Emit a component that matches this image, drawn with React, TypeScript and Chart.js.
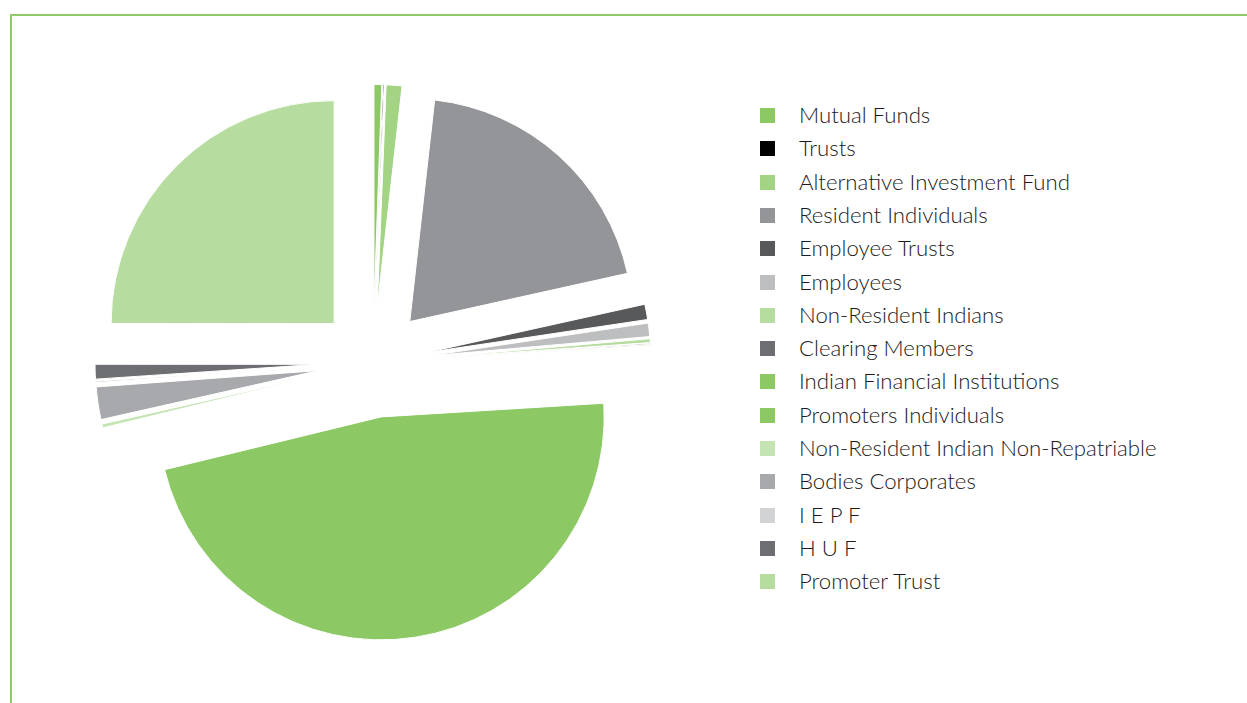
import React, { useEffect, useRef } from "react";
import { Chart, registerables } from "chart.js";

Chart.register(...registerables);

// Shareholding categories (legend order = slice order, clockwise from 12 o'clock)
const categories: string[] = [
  "Mutual Funds",
  "Trusts",
  "Alternative Investment Fund",
  "Resident Individuals",
  "Employee Trusts",
  "Employees",
  "Non-Resident Indians",
  "Clearing Members",
  "Indian Financial Institutions",
  "Promoters Individuals",
  "Non-Resident Indian Non-Repatriable",
  "Bodies Corporates",
  "I E P F",
  "H U F",
  "Promoter Trust",
];

// Percentage of shareholding
const shares: number[] = [
  0.56, 0.08, 1.14, 19.75, 1.11, 0.97, 0.28, 0.08, 0.06, 47.17, 0.28, 2.36, 0.11, 1.06, 25.0,
];

const colors: string[] = [
  "#8cc864",
  "#000000",
  "#a2d483",
  "#939598",
  "#58595b",
  "#bcbec0",
  "#b7dca0",
  "#6d6e71",
  "#8cc864",
  "#8cc864",
  "#c5e4b4",
  "#a7a9ac",
  "#d1d3d4",
  "#6d6e71",
  "#b7dca0",
];

const EXPLODE = 55;
const RADIUS = 223;

// Draw every arc pushed out along its mid angle (exploded pie)
const explodePlugin = {
  id: "explodeSlices",
  beforeDatasetDraw(chart: any, args: any) {
    const ctx = chart.ctx;
    args.meta.data.forEach((arc: any) => {
      const mid = (arc.startAngle + arc.endAngle) / 2;
      ctx.save();
      ctx.translate(Math.cos(mid) * EXPLODE, Math.sin(mid) * EXPLODE);
      arc.draw(ctx);
      ctx.restore();
    });
    return false;
  },
};

export default function App() {
  const ref = useRef<HTMLCanvasElement>(null);

  useEffect(() => {
    if (!ref.current) return;
    const chart = new Chart(ref.current, {
      type: "pie",
      data: {
        labels: categories,
        datasets: [
          {
            data: shares,
            backgroundColor: colors,
            borderColor: "#ffffff",
            borderWidth: 1,
            radius: RADIUS,
          } as any,
        ],
      },
      options: {
        responsive: false,
        animation: false,
        layout: { padding: { top: 22 } },
        plugins: {
          legend: { display: false },
          tooltip: { enabled: false },
        },
      } as any,
      plugins: [explodePlugin as any],
    });
    return () => chart.destroy();
  }, []);

  return (
    <div
      style={{
        position: "absolute",
        left: 0,
        top: 0,
        width: 1247,
        height: 703,
        overflow: "hidden",
        background: "#ffffff",
      }}
    >
      <div
        style={{
          position: "absolute",
          left: 10,
          top: 14,
          width: 1237,
          height: 689,
          borderTop: "2px solid #8fca6b",
          borderLeft: "2px solid #8fca6b",
          boxSizing: "border-box",
        }}
      />
      <canvas
        ref={ref}
        width={746}
        height={703}
        style={{ position: "absolute", left: 0, top: 0 }}
      />
      {categories.map((c, i) => (
        <div
          key={c}
          style={{
            position: "absolute",
            left: 760,
            top: 115.5 + i * 33.3 - 15,
            height: 30,
            display: "flex",
            alignItems: "center",
            whiteSpace: "nowrap",
          }}
        >
          <span
            style={{
              display: "inline-block",
              width: 15,
              height: 15,
              background: colors[i],
              flex: "none",
            }}
          />
          <span
            style={{
              marginLeft: 24,
              marginTop: -2,
              fontFamily: "Lato, 'Open Sans', sans-serif",
              fontWeight: 300,
              fontSize: 22.2,
              color: "#1c1a1b",
            }}
          >
            {c}
          </span>
        </div>
      ))}
    </div>
  );
}
